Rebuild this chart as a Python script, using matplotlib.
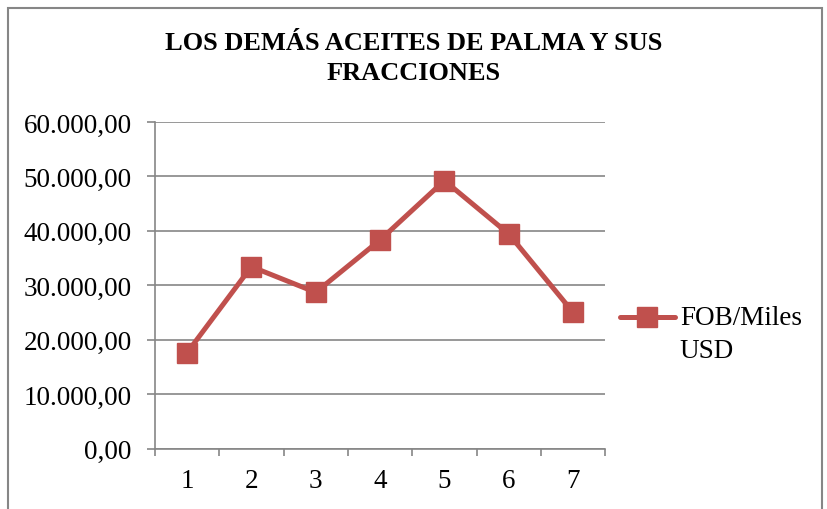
import matplotlib.pyplot as plt
from matplotlib.patches import Rectangle
from matplotlib.lines import Line2D
from matplotlib.ticker import FuncFormatter

plt.rcParams['font.family'] = ['Liberation Serif', 'DejaVu Serif']

# datos
periodos = [1, 2, 3, 4, 5, 6, 7]
fob = [17630, 33430, 28720, 38330, 49230, 39430, 25050]
titulo = "LOS DEMÁS ACEITES DE PALMA Y SUS\nFRACCIONES"
serie = ["FOB/Miles", "USD"]

rojo = '#C0504D'
gris = '#868686'


def formato_es(v, pos):
    s = "{:,.2f}".format(v)
    return s.replace(',', 'X').replace('.', ',').replace('X', '.')


fig = plt.figure(figsize=(8.28, 5.10), dpi=100)
ax = fig.add_axes([0.187, 0.118, 0.544, 0.641])

ax.plot(periodos, fob, color=rojo, lw=3.6, marker='s', ms=14,
        solid_joinstyle='miter')

ax.set_xlim(0.5, 7.5)
ax.set_ylim(0, 60000)
ax.set_yticks(range(0, 60001, 10000))
ax.yaxis.set_major_formatter(FuncFormatter(formato_es))
ax.grid(axis='y', color=gris, lw=1.2)
ax.set_axisbelow(True)

# ticks de categorias entre valores, como en excel
ax.set_xticks([p + 0.5 for p in [0] + periodos], minor=False)
ax.set_xticklabels([])
ax.set_xticks(periodos, minor=True)
ax.set_xticklabels([str(p) for p in periodos], minor=True)
ax.tick_params(axis='x', which='major', length=5, color=gris, width=1.2)
ax.tick_params(axis='x', which='minor', length=0, labelsize=19.5, pad=14)
ax.tick_params(axis='y', length=5.8, color=gris, width=1.2, labelsize=19.5, pad=11)

for lado in ['top', 'right']:
    ax.spines[lado].set_visible(False)
for lado in ['left', 'bottom']:
    ax.spines[lado].set_color(gris)
    ax.spines[lado].set_linewidth(1.2)

fig.text(0.5, 0.885, titulo, ha='center', va='center', fontsize=19,
         fontweight='bold', linespacing=1.4)

# leyenda a mano (marcador alineado con la primera linea)
fig.add_artist(Line2D([0.749, 0.815], [0.376, 0.376], transform=fig.transFigure,
                      color=rojo, lw=3.6, solid_capstyle='round'))
fig.add_artist(Line2D([0.782], [0.376], transform=fig.transFigure,
                      color=rojo, marker='s', ms=14, lw=0))
fig.text(0.821, 0.376, serie[0], ha='left', va='center', fontsize=19.5)
fig.text(0.821, 0.31, serie[1], ha='left', va='center', fontsize=19.5)

fig.patches.append(Rectangle((0.0097, -0.02), 0.983, 1.0027, transform=fig.transFigure,
                             fill=False, edgecolor=gris, lw=1.5))

fig.savefig('out.png', dpi=100)
